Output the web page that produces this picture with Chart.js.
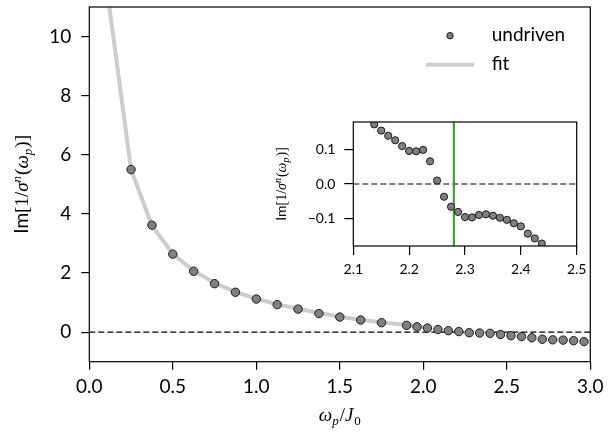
<!DOCTYPE html>
<html><head><meta charset="utf-8">
<script src="https://cdn.jsdelivr.net/npm/chart.js@4/dist/chart.umd.min.js"></script>
<style>
html,body{margin:0;padding:0;background:#fff;}
#wrap{position:relative;width:616px;height:434px;overflow:hidden;}
#main{position:absolute;left:0;top:0;}
#inset{position:absolute;left:260px;top:100px;}
</style></head><body>
<div id="wrap"><canvas id="main" width="616" height="434"></canvas><canvas id="inset" width="340" height="190"></canvas></div>
<script>
// ---- data ----
const mainX = [0.25,0.375,0.5,0.625,0.75,0.875,1.0,1.125,1.25,1.375,1.5,1.625,1.75,1.9,1.9625,2.025,2.0875,2.15,2.2125,2.275,2.3375,2.4,2.4625,2.525,2.5875,2.65,2.7125,2.775,2.8375,2.9,2.9625];
const mainY = [5.5,3.62,2.64,2.06,1.64,1.35,1.12,0.93,0.78,0.63,0.51,0.41,0.32,0.23,0.18,0.14,0.09,0.05,0.02,-0.02,-0.03,-0.04,-0.08,-0.12,-0.15,-0.19,-0.24,-0.26,-0.27,-0.29,-0.32];
const fitX = [0.1,0.25,0.375,0.5,0.625,0.75,0.875,1.0,1.125,1.25,1.375,1.5,1.625,1.75,1.9,2.0];
const fitY = [11.85,5.5,3.6,2.65,2.07,1.66,1.36,1.13,0.94,0.79,0.65,0.52,0.42,0.33,0.24,0.17];
const insetX = [2.1375,2.15,2.1625,2.175,2.1875,2.2,2.2125,2.225,2.2375,2.25,2.2625,2.275,2.2875,2.3,2.3125,2.325,2.3375,2.35,2.3625,2.375,2.3875,2.4,2.4125,2.425,2.4375];
const insetY = [0.173,0.155,0.140,0.127,0.110,0.096,0.095,0.099,0.066,0.010,-0.037,-0.066,-0.081,-0.096,-0.097,-0.090,-0.088,-0.092,-0.098,-0.104,-0.114,-0.123,-0.144,-0.158,-0.173];
const markerX = 2.28;
const mainXTicks = [0,0.5,1.0,1.5,2.0,2.5,3.0];
const mainYTicks = [0,2,4,6,8,10];
const insetXTicks = [2.1,2.2,2.3,2.4,2.5];
const insetYTicks = [-0.1,0.0,0.1];
const legendLabels = ["undriven","fit"];

const pts = (xs,ys)=>xs.map((x,i)=>({x:x,y:ys[i]}));
const SANS = 'Lato, "Open Sans", sans-serif';
const SERIF = '"Liberation Serif", "DejaVu Serif", serif';

function drawRich(ctx, parts, cx, cy, rot){
  ctx.save();
  ctx.translate(cx, cy);
  if (rot) ctx.rotate(rot);
  ctx.textBaseline = 'alphabetic';
  ctx.fillStyle = '#000';
  let w = 0;
  parts.forEach(p=>{ctx.font = p.f; p.w = ctx.measureText(p.t).width + (p.k||0); w += p.w;});
  let x = -w/2;
  parts.forEach(p=>{ctx.font = p.f; ctx.fillText(p.t, x, p.dy||0); x += p.w;});
  ctx.restore();
}
function yLabelParts(s){
  const r = (s)=>`${s}px ${SERIF}`, it=(s)=>`italic ${s}px ${SERIF}`;
  const small = Math.round(s*0.7);
  return [
    {t:'Im', f:`${s}px ${SANS}`},
    {t:'[1/', f:r(s)},
    {t:'σ', f:it(s)},
    {t:'n', f:it(small), dy:-s*0.38, k:1},
    {t:'(', f:r(s)},
    {t:'ω', f:it(s)},
    {t:'p', f:it(small), dy:s*0.2, k:1},
    {t:')]', f:r(s)}
  ];
}

const framePlugin = {
  id:'frame',
  afterDraw(chart, args, opts){
    const a = chart.chartArea, ctx = chart.ctx;
    ctx.save();
    ctx.strokeStyle = '#000'; ctx.lineWidth = 1.2;
    ctx.strokeRect(a.left, a.top, a.right-a.left, a.bottom-a.top);
    ctx.restore();
    if (opts.draw) opts.draw(chart);
  }
};

function axisCommon(ticks, fmt, fontSize, pad, tickLen, fitFn){
  return {
    type:'linear',
    grid:{display:true, drawOnChartArea:false, drawTicks:true, tickLength:tickLen, color:'#000', lineWidth:1.2},
    border:{display:false},
    ticks:{color:'#000', font:{family:SANS, size:fontSize}, padding:pad, callback:fmt, maxRotation:0, autoSkip:false},
    afterBuildTicks:(sc)=>{sc.ticks = ticks.map(v=>({value:v}));},
    afterFit:(sc)=>{fitFn(sc); sc.paddingTop=0; sc.paddingBottom=0; sc.paddingLeft=0; sc.paddingRight=0;}
  };
}

// ---- main chart ----
const mx = axisCommon(mainXTicks, v=>Number(v).toFixed(1), 19, 6, 8, sc=>{sc.height = 434-361.7;});
mx.min = 0; mx.max = 3;
const my = axisCommon(mainYTicks, v=>String(v), 19, 10, 8, sc=>{sc.width = 89.3;});
my.min = -1; my.max = 11;

new Chart(document.getElementById('main'), {
  type:'scatter',
  data:{datasets:[
    {label:legendLabels[0], data:pts(mainX,mainY), pointRadius:4.2, pointBackgroundColor:'#808080', pointBorderColor:'#1a1a1a', pointBorderWidth:1, showLine:false, order:0, clip:0},
    {label:legendLabels[1], data:pts(fitX,fitY), showLine:true, borderColor:'#cccccc', borderWidth:4, pointRadius:0, order:1, clip:0, tension:0},
    {label:'zero', data:[{x:0,y:0},{x:3,y:0}], showLine:true, borderColor:'#000', borderWidth:1.1, borderDash:[6,3], pointRadius:0, order:2, clip:0}
  ]},
  options:{
    responsive:false, animation:false, devicePixelRatio:1,
    layout:{padding:{left:0, right:616-590.3, top:7, bottom:0}},
    scales:{x:mx, y:my},
    plugins:{legend:{display:false}, tooltip:{enabled:false},
      frame:{draw:(chart)=>{
        const ctx = chart.ctx;
        const s = 19, sm = 13;
        drawRich(ctx, [
          {t:'ω', f:`italic ${s}px ${SERIF}`},
          {t:'p', f:`italic ${sm}px ${SERIF}`, dy:4, k:1},
          {t:'/', f:`${s}px ${SERIF}`},
          {t:'J', f:`italic ${s}px ${SERIF}`, k:1},
          {t:'0', f:`${sm}px ${SERIF}`, dy:4}
        ], (chart.chartArea.left+chart.chartArea.right)/2, 421, 0);
        drawRich(ctx, yLabelParts(19), 28, (chart.chartArea.top+chart.chartArea.bottom)/2, -Math.PI/2);
        // legend
        ctx.save();
        ctx.beginPath(); ctx.arc(450, 35.7, 3.2, 0, Math.PI*2);
        ctx.fillStyle='#808080'; ctx.fill(); ctx.strokeStyle='#1a1a1a'; ctx.lineWidth=1; ctx.stroke();
        ctx.beginPath(); ctx.moveTo(426, 64.7); ctx.lineTo(474, 64.7);
        ctx.strokeStyle='#cccccc'; ctx.lineWidth=4; ctx.stroke();
        ctx.fillStyle='#000'; ctx.font = `19px ${SANS}`; ctx.textBaseline='middle'; ctx.textAlign='left';
        ctx.fillText(legendLabels[0], 491.7, 34.5);
        ctx.fillText(legendLabels[1], 491.7, 64);
        ctx.restore();
      }}
    }
  },
  plugins:[framePlugin]
});

// ---- inset ----
const ix = axisCommon(insetXTicks, v=>Number(v).toFixed(1), 14, 6, 9, sc=>{sc.height = 190-146;});
ix.min = 2.1; ix.max = 2.5;
const iy = axisCommon(insetYTicks, v=>(v<0?'\u2212':'')+Math.abs(v).toFixed(1), 14, 9, 9, sc=>{sc.width = 93.3;});
iy.min = -0.18; iy.max = 0.18;

new Chart(document.getElementById('inset'), {
  type:'scatter',
  data:{datasets:[
    {label:'undriven', data:pts(insetX,insetY), pointRadius:3.6, pointBackgroundColor:'#808080', pointBorderColor:'#1a1a1a', pointBorderWidth:1, showLine:false, order:0, clip:0},
    {label:'marker', data:[{x:markerX,y:-1},{x:markerX,y:1}], showLine:true, borderColor:'#2ca02c', borderWidth:2, pointRadius:0, order:1, clip:0},
    {label:'zero', data:[{x:2.1,y:0},{x:2.5,y:0}], showLine:true, borderColor:'#000', borderWidth:1.1, borderDash:[6,3], pointRadius:0, order:2, clip:0}
  ]},
  options:{
    responsive:false, animation:false, devicePixelRatio:1,
    layout:{padding:{left:0, right:23.3, top:22, bottom:0}},
    scales:{x:ix, y:iy},
    plugins:{legend:{display:false}, tooltip:{enabled:false},
      frame:{draw:(chart)=>{
        drawRich(chart.ctx, yLabelParts(14), 26, (chart.chartArea.top+chart.chartArea.bottom)/2, -Math.PI/2);
      }}
    }
  },
  plugins:[framePlugin]
});
</script>
</body></html>
